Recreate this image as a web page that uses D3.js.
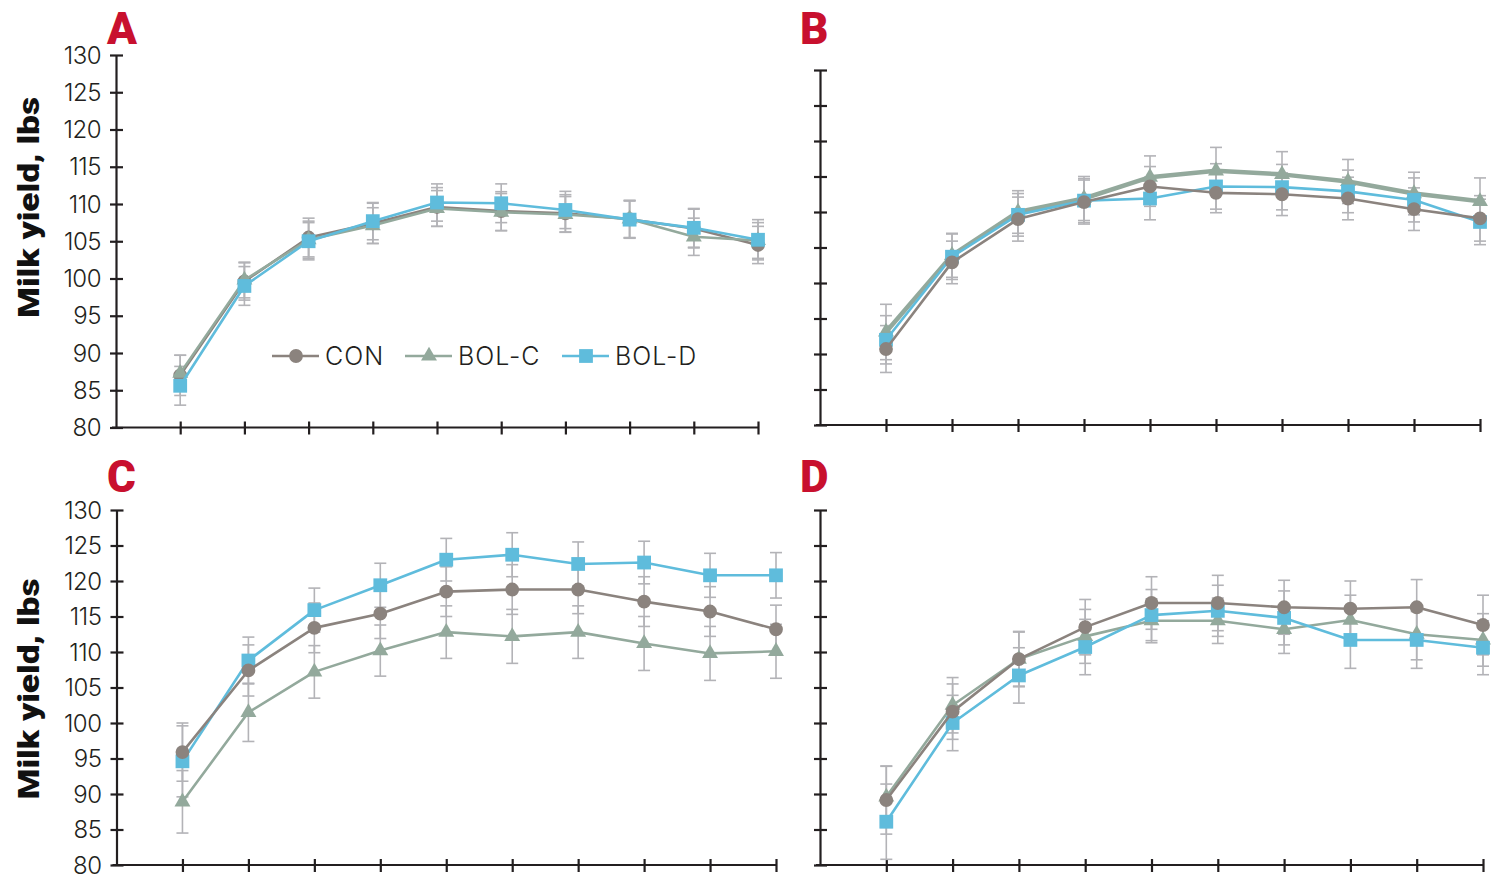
<!DOCTYPE html>
<html>
<head>
<meta charset="utf-8">
<script src="https://cdn.jsdelivr.net/npm/d3@7"></script>
<style>
    body { margin: 0; background: #fff; }
    svg { display: block; }
    .tickLabel { font-family: Inter, "Open Sans", sans-serif; font-weight: 300; font-size: 24px; fill: #231f20; letter-spacing: -0.5px; }
    .legendText { font-family: Inter, "Open Sans", sans-serif; font-weight: 300; font-size: 25px; fill: #231f20; letter-spacing: 1px; }
    .yTitle { font-family: Roboto, "Liberation Sans", sans-serif; font-weight: 900; font-size: 30px; fill: #111; }
    .panelLetter { font-family: Roboto, "Liberation Sans", sans-serif; font-weight: 900; font-size: 44px; fill: #c8102e; }
</style>
</head>
<body>
<svg id="chart" width="1494" height="875"></svg>
<script>
// weeks on the x axis (tick positions, no labels)
const weeks = [1, 2, 3, 4, 5, 6, 7, 8, 9, 10]
const seriesNames = ["CON", "BOL-C", "BOL-D"]
const yTicks = [80, 85, 90, 95, 100, 105, 110, 115, 120, 125, 130]
const panelLetters = ["A", "B", "C", "D"]

// panel A
const conA = [87.0, 99.6, 105.5, 107.4, 109.6, 109.05, 108.75, 107.95, 106.7, 104.5]
const bolcA = [87.3, 99.8, 105.2, 107.1, 109.4, 108.9, 108.6, 108.0, 105.6, 105.1]
const boldA = [85.6, 99.0, 105.0, 107.7, 110.2, 110.1, 109.2, 107.9, 106.8, 105.2]
const seConA = [2.7, 2.5, 2.6, 2.7, 2.6, 2.6, 2.5, 2.5, 2.6, 2.5]
const seBolcA = [2.4, 2.4, 2.5, 2.4, 2.4, 2.5, 2.4, 2.5, 2.5, 2.4]
const seBoldA = [2.6, 2.6, 2.5, 2.5, 2.5, 2.6, 2.5, 2.5, 2.6, 2.7]

// panel B
const conB = [90.7, 102.9, 109.0, 111.4, 113.6, 112.7, 112.5, 111.9, 110.4, 109.1]
const bolcB = [93.1, 103.9, 110.0, 111.9, 114.9, 115.8, 115.3, 114.3, 112.6, 111.5]
const boldB = [92.0, 103.7, 109.6, 111.6, 111.9, 113.6, 113.5, 112.9, 111.7, 108.6]
const seConB = [3.3, 3.0, 3.1, 3.1, 2.8, 2.8, 3.0, 3.0, 3.0, 3.2]
const seBolcB = [3.9, 3.1, 3.0, 3.1, 3.0, 3.3, 3.2, 3.1, 3.0, 3.3]
const seBoldB = [3.4, 3.2, 3.0, 3.1, 3.0, 3.2, 3.2, 3.0, 3.1, 3.2]

// panel C
const conC = [95.9, 107.4, 113.4, 115.4, 118.5, 118.8, 118.8, 117.1, 115.7, 113.2]
const bolcC = [88.9, 101.5, 107.2, 110.2, 112.8, 112.2, 112.8, 111.2, 109.8, 110.1]
const boldC = [94.6, 108.8, 115.9, 119.4, 123.0, 123.7, 122.4, 122.6, 120.8, 120.8]
const seConC = [4.1, 3.6, 3.5, 3.5, 3.5, 3.5, 3.4, 3.5, 3.5, 3.4]
const seBolcC = [4.4, 4.1, 3.7, 3.6, 3.7, 3.8, 3.7, 3.8, 3.8, 3.8]
const seBoldC = [5.0, 3.3, 3.1, 3.1, 3.0, 3.1, 3.1, 3.0, 3.1, 3.2]

// panel D
const conD = [89.15, 101.6, 109.0, 113.5, 116.9, 116.9, 116.3, 116.1, 116.3, 113.8]
const bolcD = [89.6, 102.5, 109.0, 112.2, 114.4, 114.4, 113.2, 114.5, 112.5, 111.7]
const boldD = [86.1, 100.0, 106.7, 110.7, 115.2, 115.8, 114.8, 111.7, 111.7, 110.6]
const seConD = [4.8, 3.9, 3.8, 3.9, 3.7, 3.9, 3.8, 3.9, 3.9, 4.2]
const seBolcD = [4.3, 3.9, 3.9, 3.8, 3.1, 3.2, 3.4, 3.5, 3.6, 3.7]
const seBoldD = [5.3, 3.9, 3.9, 3.9, 3.6, 3.6, 3.8, 4.0, 4.0, 3.8]

const colors = { "CON": "#8b837e", "BOL-C": "#93a99c", "BOL-D": "#5fbcdc" }
const errColor = "#b3b3b7"
const axisColor = "#231f20"

let svg = d3.select("#chart")

let panels = [
    { letter: panelLetters[0], left: 116, right: 758, top: 55, bottom: 427.5, labels: true,
      letterX: 107, letterY: 44, titleY: 207.5,
      values: [conA, bolcA, boldA], errs: [seConA, seBolcA, seBoldA], order: [0, 1, 2], legend: true },
    { letter: panelLetters[1], left: 820, right: 1480, top: 70, bottom: 425, labels: false,
      letterX: 800, letterY: 44,
      values: [conB, bolcB, boldB], errs: [seConB, seBolcB, seBoldB], order: [1, 2, 0], thickC: true },
    { letter: panelLetters[2], left: 116.5, right: 776, top: 510, bottom: 865, labels: true,
      letterX: 107, letterY: 492, titleY: 689,
      values: [conC, bolcC, boldC], errs: [seConC, seBolcC, seBoldC], order: [1, 2, 0] },
    { letter: panelLetters[3], left: 820, right: 1483, top: 510, bottom: 865, labels: false,
      letterX: 800, letterY: 492,
      values: [conD, bolcD, boldD], errs: [seConD, seBolcD, seBoldD], order: [1, 2, 0] }
]

function marker(name) {
    if (name == "CON") return d3.symbol(d3.symbolCircle, 150)
    if (name == "BOL-C") return d3.symbol(d3.symbolTriangle, 110)
    return d3.symbol(d3.symbolSquare, 190)
}

function drawPanel(p) {
    let x = d3.scaleLinear().domain([0, weeks.length]).range([p.left, p.right])
    let y = d3.scaleLinear().domain([yTicks[0], yTicks[yTicks.length - 1]]).range([p.bottom, p.top])
    let g = svg.append("g")

    // y axis
    let yAxis = d3.axisLeft(y)
        .tickValues(yTicks)
        .tickSizeInner(6)
        .tickSizeOuter(0)
        .tickFormat(p.labels ? d3.format("d") : "")
    let ya = g.append("g")
        .attr("transform", "translate(" + p.left + ",0)")
        .call(yAxis)
    ya.select(".domain").attr("stroke", axisColor).attr("stroke-width", 2.2)
    ya.selectAll(".tick line").attr("x1", 7).attr("x2", -6).attr("stroke", axisColor).attr("stroke-width", 2.2)
    ya.selectAll(".tick text").attr("class", "tickLabel").attr("x", -15).attr("dy", "0.34em")
        .attr("font-family", null).attr("font-size", null).attr("fill", null)

    // x axis
    let xAxis = d3.axisBottom(x)
        .tickValues(weeks)
        .tickSizeInner(6)
        .tickSizeOuter(0)
        .tickFormat("")
    let xa = g.append("g")
        .attr("transform", "translate(0," + p.bottom + ")")
        .call(xAxis)
    xa.select(".domain").attr("d", "M" + (p.left - 4) + ",0H" + p.right)
        .attr("stroke", axisColor).attr("stroke-width", 2.2)
    xa.selectAll(".tick line").attr("y1", -6).attr("y2", 7).attr("stroke", axisColor).attr("stroke-width", 2.2)

    // panel letter
    g.append("text")
        .attr("class", "panelLetter")
        .attr("x", p.letterX)
        .attr("y", p.letterY)
        .text(p.letter)

    // y title
    if (p.labels) {
        g.append("text")
            .attr("class", "yTitle")
            .attr("transform", "translate(39," + p.titleY + ") rotate(-90)")
            .attr("text-anchor", "middle")
            .attr("textLength", 221)
            .attr("lengthAdjust", "spacingAndGlyphs")
            .text("Milk yield, lbs")
    }

    // error bars
    p.order.forEach(function (s) {
        let eb = g.append("g").attr("stroke", errColor).attr("stroke-width", 1.6)
        weeks.forEach(function (w, i) {
            let v = p.values[s][i]
            let e = p.errs[s][i]
            let cx = x(w)
            eb.append("line").attr("x1", cx).attr("x2", cx).attr("y1", y(v - e)).attr("y2", y(v + e))
            eb.append("line").attr("x1", cx - 6).attr("x2", cx + 6).attr("y1", y(v - e)).attr("y2", y(v - e))
            eb.append("line").attr("x1", cx - 6).attr("x2", cx + 6).attr("y1", y(v + e)).attr("y2", y(v + e))
        })
    })

    let line = d3.line()
        .x(function (d, i) { return x(weeks[i]) })
        .y(function (d) { return y(d) })

    p.order.forEach(function (s) {
        let name = seriesNames[s]
        g.append("path")
            .datum(p.values[s])
            .attr("d", line)
            .attr("fill", "none")
            .attr("stroke", colors[name])
            .attr("stroke-width", (p.thickC && name == "BOL-C") ? 4.5 : 2.6)
            .attr("stroke-linejoin", "round")
        g.selectAll(null)
            .data(p.values[s])
            .enter()
            .append("path")
            .attr("transform", function (d, i) { return "translate(" + x(weeks[i]) + "," + y(d) + ")" })
            .attr("d", marker(name))
            .attr("fill", colors[name])
    })

    // legend
    if (p.legend) {
        let lx = [272, 405, 562]
        let ly = 356
        seriesNames.forEach(function (name, i) {
            let lg = g.append("g").attr("transform", "translate(" + lx[i] + "," + ly + ")")
            lg.append("line").attr("x1", 0).attr("x2", 47).attr("y1", 0).attr("y2", 0)
                .attr("stroke", colors[name]).attr("stroke-width", 2.6)
            lg.append("path").attr("transform", "translate(24,0)").attr("d", marker(name)).attr("fill", colors[name])
            lg.append("text").attr("class", "legendText").attr("x", 53).attr("y", 0).attr("dy", "0.36em").text(name)
        })
    }
}

panels.forEach(drawPanel)
</script>
</body>
</html>
